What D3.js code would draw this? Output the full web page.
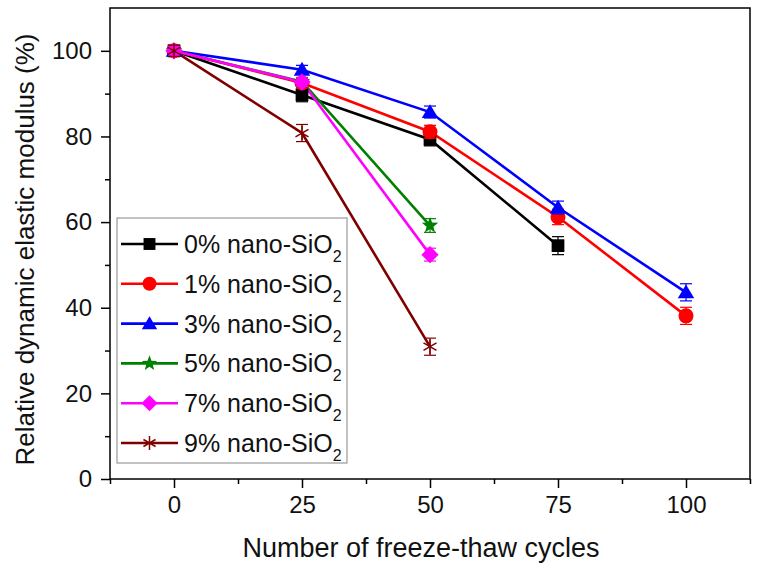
<!DOCTYPE html>
<html><head><meta charset="utf-8">
<script src="https://cdnjs.cloudflare.com/ajax/libs/d3/7.8.5/d3.min.js"></script>
<style>
html,body{margin:0;padding:0;background:#fff;}
svg{display:block;font-family:"Liberation Sans",Arial,sans-serif;}
</style></head>
<body><svg id="c" width="759" height="569"></svg>
<script>
// ---- data ----
const cycles = [0, 25, 50, 75, 100];
const seriesNames = ["0% nano-SiO", "1% nano-SiO", "3% nano-SiO", "5% nano-SiO", "7% nano-SiO", "9% nano-SiO"];
const s0 = [100, 89.7, 79.3, 54.5];
const s1 = [100, 92.5, 81.1, 61.2, 38.1];
const s2 = [100, 95.6, 85.7, 63.4, 43.6];
const s3 = [100, 92.8, 59.2];
const s4 = [100, 92.7, 52.4];
const s5 = [100, 80.8, 30.9];
const e0 = [1.2, 1.6, 1.5, 2.1];
const e1 = [1.0, 1.2, 1.5, 1.8, 2.0];
const e2 = [1.0, 1.0, 1.4, 1.5, 2.0];
const e3 = [1.0, 1.0, 1.6];
const e4 = [1.0, 1.0, 1.5];
const e5 = [1.3, 2.0, 2.0];
const xTicks = [0, 25, 50, 75, 100];
const xMinor = [-12.5, 12.5, 37.5, 62.5, 87.5, 112.5];
const yTicks = [0, 20, 40, 60, 80, 100];
const yMinor = [10, 30, 50, 70, 90];
const xTitle = "Number of freeze-thaw cycles";
const yTitle = "Relative dynamic elastic modulus (%)";

const colors = ["#000000", "#ff0000", "#0000ff", "#008000", "#ff00ff", "#800000"];
const shapes = ["square", "circle", "triangle", "star", "diamond", "asterisk"];
const values = [s0, s1, s2, s3, s4, s5];
const errs = [e0, e1, e2, e3, e4, e5];

const L = 110, R = 750, T = 8, B = 479;
const svg = d3.select("#c");
const x = d3.scaleLinear().domain([-12.5, 112.5]).range([L, R]);
const y = d3.scaleLinear().domain([0, 110]).range([B, T]);

// frame
svg.append("rect").attr("x", L).attr("y", T).attr("width", R - L).attr("height", B - T)
  .attr("fill", "none").attr("stroke", "#000").attr("stroke-width", 1.5);

// axes
const fs = 24;
const gx = svg.append("g").attr("transform", `translate(0,${B})`)
  .call(d3.axisBottom(x).tickValues(xTicks).tickSize(9).tickSizeOuter(0).tickPadding(8).tickFormat(d3.format("d")));
const gxm = svg.append("g").attr("transform", `translate(0,${B})`)
  .call(d3.axisBottom(x).tickValues(xMinor).tickSize(5).tickSizeOuter(0).tickFormat(""));
const gy = svg.append("g").attr("transform", `translate(${L},0)`)
  .call(d3.axisLeft(y).tickValues(yTicks).tickSize(9).tickSizeOuter(0).tickPadding(9).tickFormat(d3.format("d")));
const gym = svg.append("g").attr("transform", `translate(${L},0)`)
  .call(d3.axisLeft(y).tickValues(yMinor).tickSize(5).tickSizeOuter(0).tickFormat(""));
[gx, gxm, gy, gym].forEach(g => {
  g.select(".domain").remove();
  g.selectAll("line").attr("stroke", "#000").attr("stroke-width", 1.5);
  g.selectAll("text").attr("font-size", fs).attr("fill", "#111").attr("font-family", "Liberation Sans, Arial, sans-serif");
});

svg.append("text").attr("x", 421).attr("y", 557).attr("text-anchor", "middle")
  .attr("font-size", 27).attr("fill", "#111").text(xTitle);
svg.append("text").attr("transform", `translate(34,${(T + B) / 2 + 6}) rotate(-90)`).attr("text-anchor", "middle")
  .attr("font-size", 26).attr("fill", "#111").text(yTitle);

// marker drawing
function marker(g, shape, color, cx, cy, s) {
  const r = s / 2;
  if (shape === "square") {
    g.append("rect").attr("x", cx - r * 0.85).attr("y", cy - r * 0.85).attr("width", r * 1.7).attr("height", r * 1.7).attr("fill", color);
  } else if (shape === "circle") {
    g.append("circle").attr("cx", cx).attr("cy", cy).attr("r", r).attr("fill", color);
  } else if (shape === "triangle") {
    g.append("path").attr("d", `M${cx},${cy - r * 1.05}L${cx + r * 1.1},${cy + r * 0.8}L${cx - r * 1.1},${cy + r * 0.8}Z`).attr("fill", color);
  } else if (shape === "diamond") {
    g.append("path").attr("d", `M${cx},${cy - r * 1.15}L${cx + r * 1.15},${cy}L${cx},${cy + r * 1.15}L${cx - r * 1.15},${cy}Z`).attr("fill", color);
  } else if (shape === "star") {
    const pts = [];
    for (let i = 0; i < 10; i++) {
      const a = -Math.PI / 2 + i * Math.PI / 5;
      const rr = i % 2 === 0 ? r * 1.15 : r * 0.48;
      pts.push([cx + rr * Math.cos(a), cy + rr * Math.sin(a)]);
    }
    g.append("path").attr("d", "M" + pts.map(p => p.join(",")).join("L") + "Z").attr("fill", color);
  } else if (shape === "asterisk") {
    [90, 30, 150].forEach(deg => {
      const a = deg * Math.PI / 180;
      g.append("line").attr("x1", cx - r * Math.cos(a)).attr("y1", cy - r * Math.sin(a))
        .attr("x2", cx + r * Math.cos(a)).attr("y2", cy + r * Math.sin(a))
        .attr("stroke", color).attr("stroke-width", 1.5);
    });
  }
}

const line = d3.line().x((d, i) => x(cycles[i])).y(d => y(d));
// lines
values.forEach((v, k) => {
  svg.append("path").datum(v).attr("d", line).attr("fill", "none")
    .attr("stroke", colors[k]).attr("stroke-width", 2.6);
});
// error bars and markers
values.forEach((v, k) => {
  const g = svg.append("g");
  v.forEach((d, i) => {
    const cx = x(cycles[i]), e = errs[k][i];
    const y1 = y(d + e), y2 = y(d - e);
    g.append("line").attr("x1", cx).attr("x2", cx).attr("y1", y1).attr("y2", y2).attr("stroke", colors[k]).attr("stroke-width", 1.2);
    [y1, y2].forEach(yy => g.append("line").attr("x1", cx - 6).attr("x2", cx + 6).attr("y1", yy).attr("y2", yy).attr("stroke", colors[k]).attr("stroke-width", 1.2));
    marker(g, shapes[k], colors[k], cx, y(d), 15);
  });
});

// legend
const lg = svg.append("g");
lg.append("rect").attr("x", 117).attr("y", 218).attr("width", 230).attr("height", 245)
  .attr("fill", "#fff").attr("stroke", "#999").attr("stroke-width", 1.2);
seriesNames.forEach((name, k) => {
  const yy = 244 + k * 39.8;
  lg.append("line").attr("x1", 121).attr("x2", 178).attr("y1", yy).attr("y2", yy).attr("stroke", colors[k]).attr("stroke-width", 2.6);
  marker(lg, shapes[k], colors[k], 149.5, yy, 14);
  const t = lg.append("text").attr("x", 184).attr("y", yy + 9).attr("font-size", 25).attr("fill", "#111");
  t.append("tspan").text(name);
  t.append("tspan").attr("font-size", 16).attr("dy", 9).text("2");
});
</script></body></html>
